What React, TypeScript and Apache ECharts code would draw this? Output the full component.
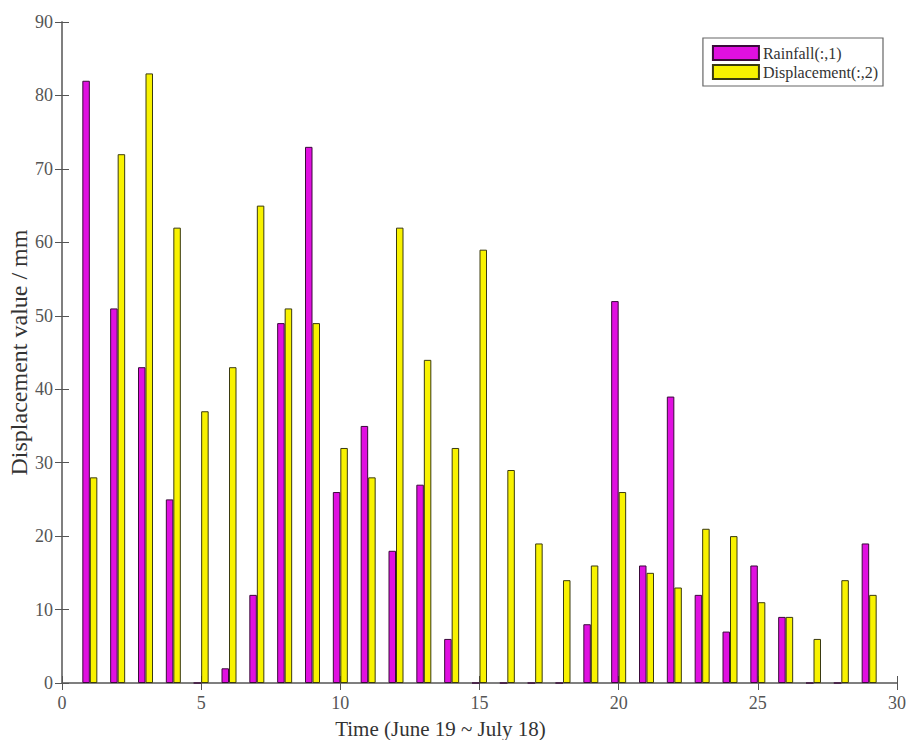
import React, { useEffect, useRef } from "react";
import * as echarts from "echarts";

const days = [1, 2, 3, 4, 5, 6, 7, 8, 9, 10, 11, 12, 13, 14, 15, 16, 17, 18, 19, 20, 21, 22, 23, 24, 25, 26, 27, 28, 29];
const rainfall = [82, 51, 43, 25, 0, 2, 12, 49, 73, 26, 35, 18, 27, 6, 0, 0, 0, 0, 8, 52, 16, 39, 12, 7, 16, 9, 0, 0, 19];
const displacement = [28, 72, 83, 62, 37, 43, 65, 51, 49, 32, 28, 62, 44, 32, 59, 29, 19, 14, 16, 26, 15, 13, 21, 20, 11, 9, 6, 14, 12];
const seriesNames = ["Rainfall(:,1)", "Displacement(:,2)"];
const xTitle = "Time (June 19 ~ July 18)";
const yTitle = "Displacement value / mm";

const FONT = "'Liberation Serif', 'DejaVu Serif', serif";
const AXIS = "#777777";

export default function App() {
  const ref = useRef<HTMLDivElement>(null);
  useEffect(() => {
    if (!ref.current) return;
    const chart = echarts.init(ref.current, null, { renderer: "svg" });
    const tick = () => ({ show: true, inside: true, length: 7, lineStyle: { color: "#555", width: 1 } });
    chart.setOption({
      animation: false,
      backgroundColor: "#ffffff",
      textStyle: { fontFamily: FONT },
      grid: { left: 62, right: 10, top: 22, bottom: 57, containLabel: false, outerBoundsMode: "none" },
      legend: {
        orient: "vertical",
        right: 24,
        top: 38,
        itemWidth: 46,
        itemHeight: 14,
        itemGap: 3,
        padding: [7, 5, 6, 9],
        borderColor: "#666",
        borderWidth: 1.2,
        backgroundColor: "#fff",
        borderRadius: 0,
        icon: "rect",
        textStyle: { fontFamily: FONT, fontSize: 16, color: "#333", padding: [0, 0, 0, -1] },
        data: seriesNames,
      },
      xAxis: [
        {
          type: "value",
          min: 0,
          max: 30,
          interval: 5,
          name: xTitle,
          nameLocation: "middle",
          nameGap: 35,
          nameMoveOverlap: false,
          nameTextStyle: { fontFamily: FONT, fontSize: 21, color: "#333", padding: [0, 78, 0, 0] },
          axisLine: { show: true, lineStyle: { color: AXIS, width: 1.5 } },
          axisTick: tick(),
          axisLabel: { fontFamily: FONT, fontSize: 18, color: "#555", margin: 11 },
          splitLine: { show: false },
        },
        {
          type: "value",
          position: "top",
          min: 0,
          max: 30,
          interval: 5,
          axisLine: { show: true, lineStyle: { color: AXIS, width: 1.5 } },
          axisTick: tick(),
          axisLabel: { show: false },
          splitLine: { show: false },
        },
      ],
      yAxis: [
        {
          type: "value",
          min: 0,
          max: 90,
          interval: 10,
          name: yTitle,
          nameLocation: "middle",
          nameGap: 31,
          nameMoveOverlap: false,
          nameTextStyle: { fontFamily: FONT, fontSize: 24, color: "#333" },
          axisLine: { show: true, lineStyle: { color: AXIS, width: 1.5 } },
          axisTick: tick(),
          axisLabel: { fontFamily: FONT, fontSize: 18, color: "#555", margin: 9 },
          splitLine: { show: false },
        },
        {
          type: "value",
          position: "right",
          min: 0,
          max: 90,
          interval: 10,
          axisLine: { show: true, lineStyle: { color: AXIS, width: 1.5 } },
          axisTick: tick(),
          axisLabel: { show: false },
          splitLine: { show: false },
        },
      ],
      series: [
        {
          name: seriesNames[0],
          type: "bar",
          barWidth: 7.5,
          barGap: "0%",
          itemStyle: { color: "#e010e0", borderColor: "#3a0a3a", borderWidth: 1 },
          data: days.map((d, i) => [d, rainfall[i]]),
        },
        {
          name: seriesNames[1],
          type: "bar",
          barWidth: 7.5,
          barGap: "0%",
          itemStyle: { color: "#f8f200", borderColor: "#3a3a10", borderWidth: 1 },
          data: days.map((d, i) => [d, displacement[i]]),
        },
      ],
    });
    return () => chart.dispose();
  }, []);
  return (
    <div
      ref={ref}
      style={{ position: "fixed", left: 0, top: 0, width: 907, height: 740, background: "#fff" }}
    />
  );
}
